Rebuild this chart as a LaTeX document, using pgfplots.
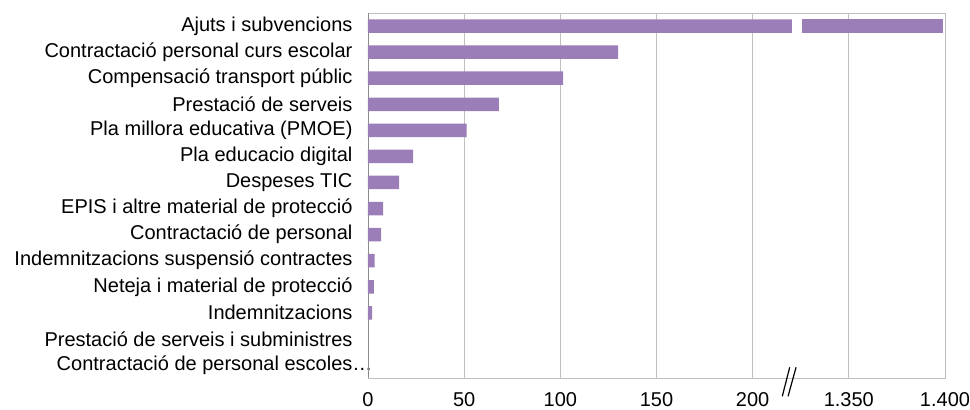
\documentclass[border=0pt]{standalone}
\usepackage{pgfplots}
\pgfplotsset{compat=1.18}
\usepackage{fontspec}
\setmainfont{Liberation Sans}
\definecolor{barc}{RGB}{155,125,184}
\definecolor{gridc}{RGB}{192,192,192}
\definecolor{axc}{RGB}{140,140,140}
% Broken axis: values above the break are stored as (value - 1100)
\pgfplotstableread{
y  a      gap  b
0  220.4  5.5  72.9
1  130.0  0    0
2  101.5  0    0
3  68.0   0    0
4  51.3   0    0
5  23.5   0    0
6  16.2   0    0
7  7.9    0    0
8  6.8    0    0
9  3.5    0    0
10 3.0    0    0
11 2.2    0    0
12 0      0    0
13 0      0    0
}\datatab
\begin{document}
\begin{tikzpicture}
\begin{axis}[
  name=ax,
  scale only axis, width=577pt, height=365pt,
  xbar stacked, bar width=13.5pt,
  xmin=0, xmax=300, ymin=-0.5, ymax=13.5, y dir=reverse,
  ytick={0,...,13},
  yticklabels={Ajuts i subvencions,Contractació personal curs escolar,Compensació transport públic,Prestació de serveis,Pla millora educativa (PMOE),Pla educacio digital,Despeses TIC,EPIS i altre material de protecció,Contractació de personal,Indemnitzacions suspensió contractes,Neteja i material de protecció,Indemnitzacions,Prestació de serveis i subministres,{Contractació de personal escoles\rlap{…}}},
  xtick={0,50,100,150,200,250,300},
  xticklabels={0,50,100,150,200,{1.350},{1.400}},
  xmajorgrids, grid style={gridc, line width=0.8pt},
  major tick length=0pt,
  axis line style={gridc, line width=0.9pt},
  tick label style={font=\fontsize{20}{23}\selectfont},
  /pgf/number format/assume math mode=true,
  yticklabel style={xshift=-12pt},
  xticklabel style={yshift=-11pt},
  clip=false,
]
\addplot[fill=barc, draw=none] table[x=a, y=y] {\datatab};
\addplot[fill=none, draw=none] table[x=gap, y=y] {\datatab};
\addplot[fill=barc, draw=none] table[x=b, y=y] {\datatab};
\draw[axc, line width=0.9pt] (rel axis cs:0,0) -- (rel axis cs:0,1);
\draw[black, line width=1.2pt] (axis cs:217.8,13.5) ++(-4.6pt,-18.3pt) -- ++(7.4pt,29pt);
\draw[black, line width=1.2pt] (axis cs:221,13.5) ++(-5pt,-18.3pt) -- ++(8pt,29pt);
\end{axis}
\pgfresetboundingbox
\path ([shift={(-368pt,-31pt)}]ax.south west) rectangle ([shift={(25pt,13pt)}]ax.north east);
\end{tikzpicture}
\end{document}
